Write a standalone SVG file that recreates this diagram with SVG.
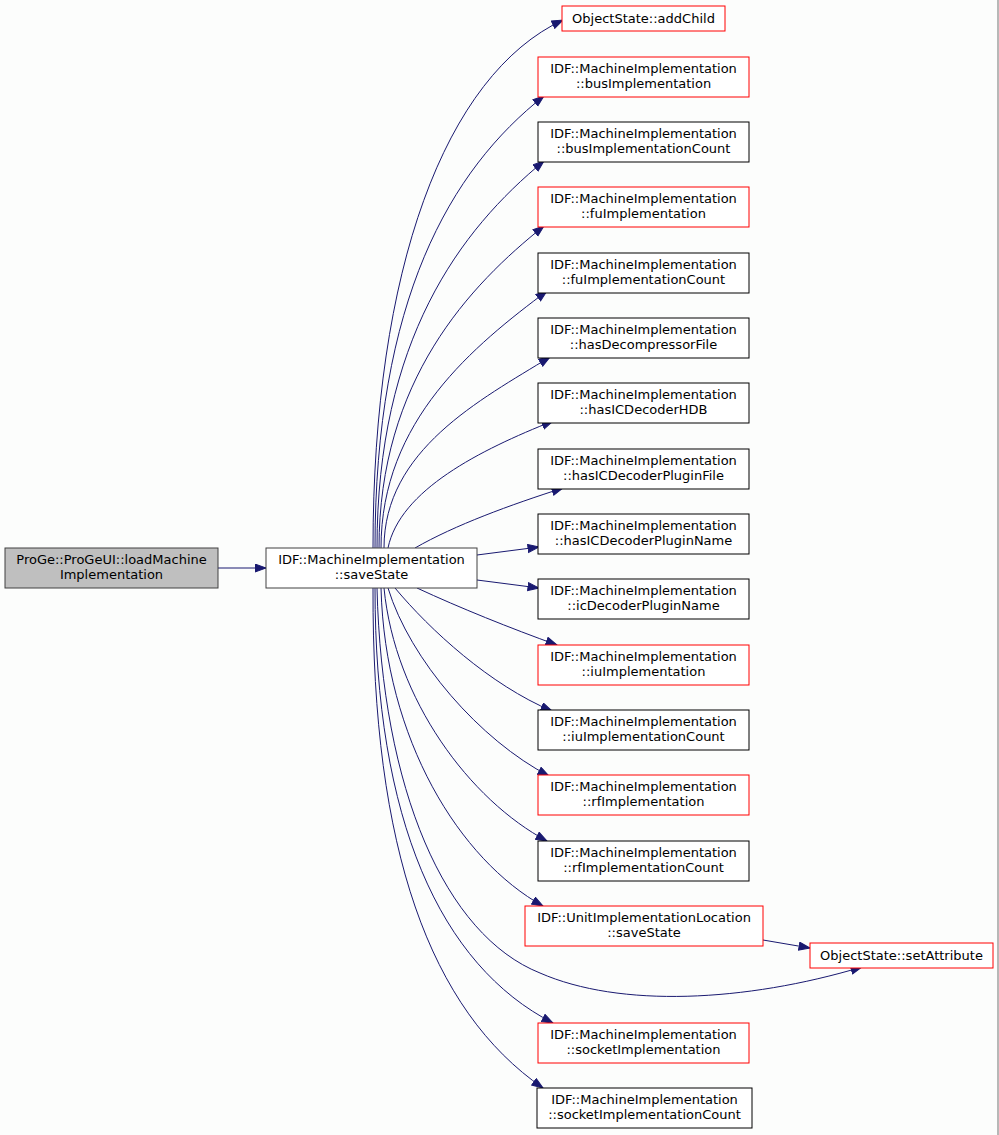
<svg xmlns="http://www.w3.org/2000/svg" width="999" height="1135" viewBox="0 0 999 1135">
<style>
.n rect{fill:#ffffff;stroke:#000000;stroke-width:1}
.n.red rect{stroke:#ff0000}
.n.root rect{fill:#bfbfbf;stroke:#404040}
.n.mid rect{stroke:#404040}
text{font-family:"DejaVu Sans","Liberation Sans",sans-serif;font-size:13px;fill:#000000;text-anchor:middle}
.e path{fill:none;stroke:#191970;stroke-width:1;marker-end:url(#ah)}
</style>
<defs>
<marker id="ah" markerUnits="userSpaceOnUse" markerWidth="13" markerHeight="10" refX="11.5" refY="4.5" orient="auto" viewBox="0 0 13 10">
<path d="M0.5,0.5 L11.5,4.5 L0.5,8.5 z" fill="#191970" stroke="#191970" stroke-width="1"/>
</marker>
</defs>
<rect x="0" y="0" width="999" height="1135" fill="#fcfdfc"/>
<line x1="998" y1="0" x2="998" y2="1135" stroke="#a0a0a0" stroke-width="1.5"/>
<g class="e" id="edges">
<path d="M218,568 L266,568"/>
<path d="M373,548 C373,270 445,75 563,20"/>
<path d="M375,548 C375,300 450,170 544,96"/>
<path d="M377,548 C377,340 460,230 544,161"/>
<path d="M379,548 C379,380 470,285 544,226"/>
<path d="M381,548 C381,420 475,345 547,291"/>
<path d="M384,548 C384,450 480,400 550,357"/>
<path d="M388,548 C400,490 480,450 553,421"/>
<path d="M415,548 C455,525 510,505 563,488"/>
<path d="M477,555 L539,547"/>
<path d="M477,580 L539,588"/>
<path d="M417,588 C460,608 510,628 557,645"/>
<path d="M395,588 C430,630 490,685 552,711"/>
<path d="M388,588 C410,660 480,740 549,776"/>
<path d="M384,588 C395,700 470,800 547,841"/>
<path d="M381,588 C385,740 460,860 543,906"/>
<path d="M377,588 C382,790 445,935 540,973 C620,1008 745,1002 862,967"/>
<path d="M375,588 C375,820 440,965 553,1023"/>
<path d="M373,588 C372,850 430,1010 543,1088"/>
<path d="M763,940 L810,948"/>
</g>
<g class="n root" id="node_loadMachineImplementation">
<rect x="5" y="548" width="213" height="40"/>
<text x="111.5" y="564">ProGe::ProGeUI::loadMachine</text>
<text x="111.5" y="579">Implementation</text>
</g>
<g class="n mid" id="node_saveState">
<rect x="266" y="548" width="211" height="40"/>
<text x="371.5" y="564">IDF::MachineImplementation</text>
<text x="371.5" y="579">::saveState</text>
</g>
<g class="n red" id="node_addChild">
<rect x="562" y="6" width="163" height="25"/>
<text x="643.5" y="23">ObjectState::addChild</text>
</g>
<g class="n red" id="node_busImplementation">
<rect x="538" y="57" width="211" height="40"/>
<text x="643.5" y="73">IDF::MachineImplementation</text>
<text x="643.5" y="88">::busImplementation</text>
</g>
<g class="n" id="node_busImplementationCount">
<rect x="538" y="122" width="211" height="40"/>
<text x="643.5" y="138">IDF::MachineImplementation</text>
<text x="643.5" y="153">::busImplementationCount</text>
</g>
<g class="n red" id="node_fuImplementation">
<rect x="538" y="187" width="211" height="40"/>
<text x="643.5" y="203">IDF::MachineImplementation</text>
<text x="643.5" y="218">::fuImplementation</text>
</g>
<g class="n" id="node_fuImplementationCount">
<rect x="538" y="253" width="211" height="40"/>
<text x="643.5" y="269">IDF::MachineImplementation</text>
<text x="643.5" y="284">::fuImplementationCount</text>
</g>
<g class="n" id="node_hasDecompressorFile">
<rect x="538" y="318" width="211" height="40"/>
<text x="643.5" y="334">IDF::MachineImplementation</text>
<text x="643.5" y="349">::hasDecompressorFile</text>
</g>
<g class="n" id="node_hasICDecoderHDB">
<rect x="538" y="383" width="211" height="40"/>
<text x="643.5" y="399">IDF::MachineImplementation</text>
<text x="643.5" y="414">::hasICDecoderHDB</text>
</g>
<g class="n" id="node_hasICDecoderPluginFile">
<rect x="538" y="449" width="211" height="40"/>
<text x="643.5" y="465">IDF::MachineImplementation</text>
<text x="643.5" y="480">::hasICDecoderPluginFile</text>
</g>
<g class="n" id="node_hasICDecoderPluginName">
<rect x="538" y="514" width="211" height="40"/>
<text x="643.5" y="530">IDF::MachineImplementation</text>
<text x="643.5" y="545">::hasICDecoderPluginName</text>
</g>
<g class="n" id="node_icDecoderPluginName">
<rect x="538" y="579" width="211" height="40"/>
<text x="643.5" y="595">IDF::MachineImplementation</text>
<text x="643.5" y="610">::icDecoderPluginName</text>
</g>
<g class="n red" id="node_iuImplementation">
<rect x="538" y="645" width="211" height="40"/>
<text x="643.5" y="661">IDF::MachineImplementation</text>
<text x="643.5" y="676">::iuImplementation</text>
</g>
<g class="n" id="node_iuImplementationCount">
<rect x="538" y="710" width="211" height="40"/>
<text x="643.5" y="726">IDF::MachineImplementation</text>
<text x="643.5" y="741">::iuImplementationCount</text>
</g>
<g class="n red" id="node_rfImplementation">
<rect x="538" y="775" width="211" height="40"/>
<text x="643.5" y="791">IDF::MachineImplementation</text>
<text x="643.5" y="806">::rfImplementation</text>
</g>
<g class="n" id="node_rfImplementationCount">
<rect x="538" y="841" width="211" height="40"/>
<text x="643.5" y="857">IDF::MachineImplementation</text>
<text x="643.5" y="872">::rfImplementationCount</text>
</g>
<g class="n red" id="node_UIL_saveState">
<rect x="525" y="906" width="238" height="40"/>
<text x="644" y="922">IDF::UnitImplementationLocation</text>
<text x="644" y="937">::saveState</text>
</g>
<g class="n red" id="node_setAttribute">
<rect x="810" y="943" width="183" height="25"/>
<text x="901.5" y="960">ObjectState::setAttribute</text>
</g>
<g class="n red" id="node_socketImplementation">
<rect x="538" y="1023" width="211" height="40"/>
<text x="643.5" y="1039">IDF::MachineImplementation</text>
<text x="643.5" y="1054">::socketImplementation</text>
</g>
<g class="n" id="node_socketImplementationCount">
<rect x="537" y="1088" width="215" height="40"/>
<text x="644.5" y="1104">IDF::MachineImplementation</text>
<text x="644.5" y="1119">::socketImplementationCount</text>
</g>
</svg>
